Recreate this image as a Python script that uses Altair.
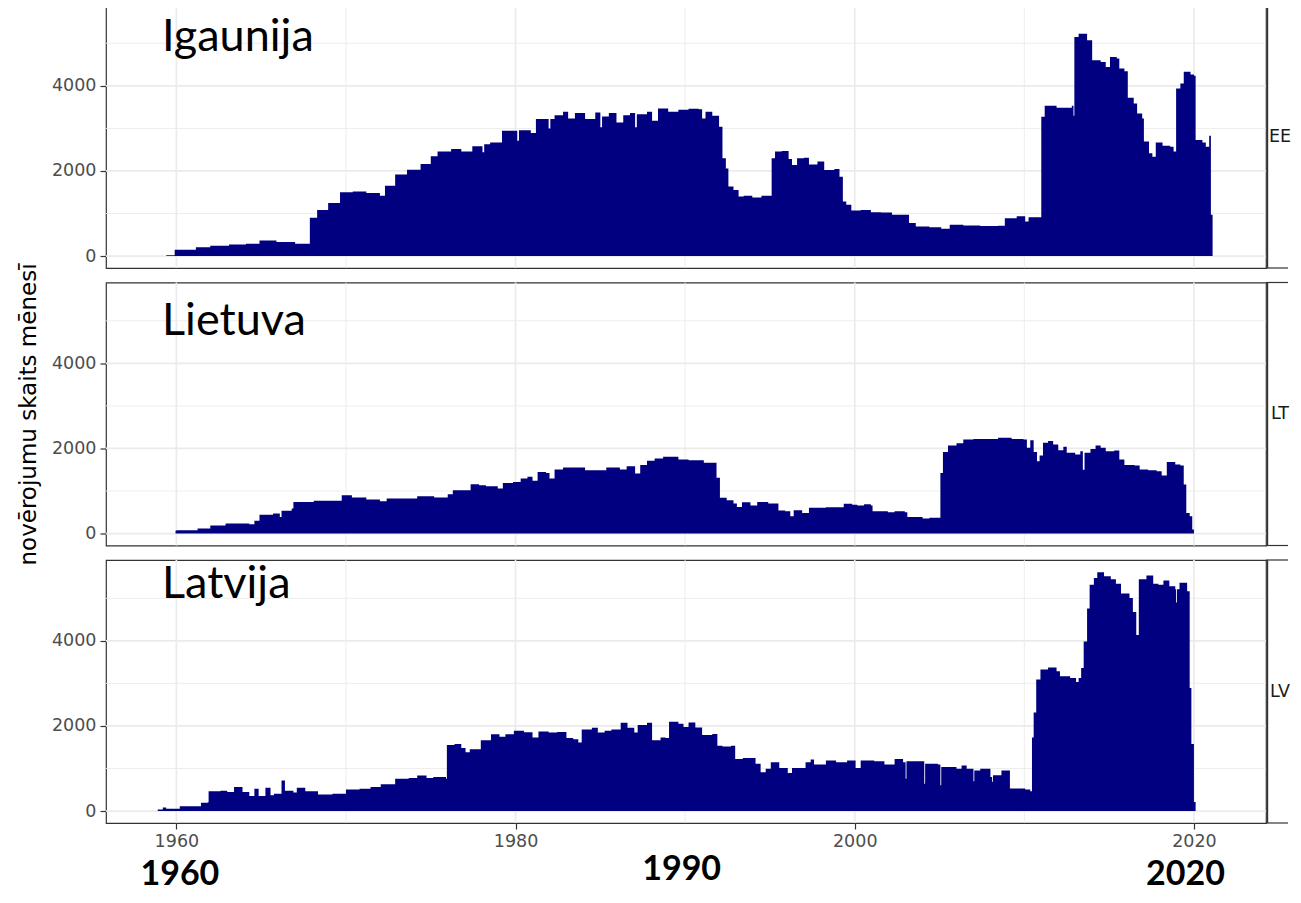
import altair as alt
import pandas as pd

# ---------------- data ----------------
ee_year = [1959.4, 1959.9, 1961.15, 1962.0, 1963.1, 1964.1, 1964.9, 1965.9, 1967.0, 1967.87,
           1968.3, 1968.95, 1969.65, 1970.4, 1971.2, 1972.0, 1972.3, 1972.9, 1973.6, 1974.4,
           1975.0, 1975.4, 1976.2, 1976.8, 1977.45, 1978.05, 1978.15, 1978.5, 1979.2, 1980.1,
           1980.2, 1980.9, 1981.2, 1981.95, 1982.05, 1982.3, 1982.8, 1983.1, 1983.5, 1984.1,
           1984.7, 1985.0, 1985.1, 1985.5, 1985.95, 1986.35, 1986.75, 1987.05, 1987.15, 1987.75,
           1988.05, 1988.4, 1989.0, 1989.6, 1990.2, 1990.8, 1991.0, 1991.2, 1991.6, 1992.0,
           1992.2, 1992.4, 1992.55, 1992.85, 1993.15, 1993.45, 1993.96, 1994.5, 1995.1, 1995.3,
           1995.7, 1996.1, 1996.3, 1996.6, 1997.0, 1997.3, 1997.8, 1998.2, 1998.8, 1999.1,
           1999.3, 1999.5, 1999.8, 2000.35, 2000.95, 2001.55, 2002.2, 2003.2, 2003.6, 2004.4,
           2005.1, 2005.6, 2006.4, 2007.4, 2008.45, 2008.85, 2009.55, 2010.05, 2010.25, 2011.0,
           2011.2, 2011.9, 2012.5, 2012.8, 2012.9, 2012.95, 2013.2, 2013.7, 2014.0, 2014.5,
           2014.8, 2015.05, 2015.45, 2015.6, 2015.9, 2016.1, 2016.45, 2016.65, 2016.95, 2017.05,
           2017.35, 2017.55, 2017.75, 2018.15, 2018.6, 2018.8, 2018.95, 2019.2, 2019.4, 2019.8,
           2020.0, 2020.1, 2020.5, 2020.7, 2020.9, 2021.0, 2021.1]
ee_value = [20, 150, 205, 240, 275, 290, 365, 330, 290, 900,
            1085, 1250, 1500, 1520, 1485, 1420, 1655, 1920, 2030, 2165,
            2345, 2460, 2515, 2455, 2580, 2440, 2630, 2670, 2945, 2710,
            2955, 2890, 3220, 3000, 3220, 3310, 3390, 3235, 3360, 3220,
            3375, 3025, 3280, 3360, 3140, 3310, 3360, 3025, 3335, 3390,
            3180, 3470, 3390, 3440, 3465, 3450, 3235, 3390, 3300, 3040,
            2300, 2060, 1635, 1555, 1400, 1420, 1375, 1420, 2300, 2455,
            2470, 2280, 2140, 2300, 2310, 2155, 2220, 2025, 2045, 1865,
            1280, 1205, 1070, 1085, 1030, 1025, 970, 775, 695, 680,
            640, 735, 720, 705, 710, 890, 935, 810, 915, 3275,
            3530, 3485, 3485, 3530, 3300, 5150, 5225, 5070, 4600, 4560,
            4445, 4680, 4640, 4405, 4345, 3720, 3585, 3350, 3235, 2690,
            2415, 2335, 2670, 2595, 2570, 2455, 3935, 4055, 4330, 4265,
            4235, 2725, 2670, 2570, 2830, 970, 0]

lt_year = [1959.95, 1960.0, 1961.25, 1962.0, 1962.9, 1964.3, 1964.6, 1964.9, 1965.7, 1966.1,
           1966.2, 1966.8, 1966.9, 1968.1, 1969.75, 1970.35, 1971.2, 1972.0, 1972.4, 1974.2,
           1975.2, 1976.0, 1976.3, 1977.35, 1977.85, 1978.25, 1978.95, 1979.25, 1979.85, 1980.3,
           1980.7, 1981.0, 1981.3, 1981.8, 1982.0, 1982.3, 1982.8, 1984.1, 1985.35, 1986.15,
           1986.55, 1987.05, 1987.35, 1987.75, 1988.2, 1988.7, 1989.6, 1990.2, 1991.1, 1991.85,
           1992.05, 1992.45, 1992.85, 1993.05, 1993.35, 1993.85, 1994.25, 1994.9, 1995.5, 1995.9,
           1996.2, 1996.4, 1996.9, 1997.3, 1998.3, 1999.35, 1999.85, 2000.15, 2000.55, 2000.95,
           2001.05, 2001.95, 2002.35, 2002.95, 2003.1, 2004.0, 2004.4, 2005.05, 2005.2, 2005.5,
           2006.0, 2006.4, 2007.0, 2008.45, 2009.25, 2009.95, 2010.15, 2010.35, 2010.55, 2010.75,
           2010.9, 2011.1, 2011.4, 2011.7, 2012.0, 2012.3, 2012.5, 2013.0, 2013.3, 2013.45,
           2013.55, 2013.9, 2014.2, 2014.5, 2014.8, 2015.3, 2015.6, 2015.9, 2016.5, 2016.8,
           2017.3, 2017.8, 2018.1, 2018.4, 2018.9, 2019.2, 2019.4, 2019.55, 2019.75, 2019.9,
           2020.0]
lt_value = [65, 78, 120, 190, 235, 220, 300, 445, 470, 390,
            535, 590, 745, 770, 900, 845, 800, 760, 825, 880,
            845, 925, 1020, 1160, 1135, 1115, 1060, 1190, 1215, 1295,
            1335, 1240, 1450, 1425, 1295, 1505, 1555, 1490, 1555, 1505,
            1585, 1410, 1610, 1710, 1765, 1805, 1740, 1725, 1665, 1310,
            840, 785, 705, 625, 735, 660, 745, 705, 540, 525,
            410, 550, 485, 605, 620, 700, 680, 660, 690, 660,
            525, 500, 525, 500, 390, 355, 375, 1425, 1915, 2070,
            2120, 2210, 2225, 2250, 2225, 2210, 2015, 2195, 1915, 1700,
            1835, 2135, 2175, 2095, 1960, 2040, 1900, 1860, 1935, 1500,
            1900, 1990, 2070, 2015, 1935, 1955, 1740, 1610, 1600, 1505,
            1490, 1465, 1365, 1680, 1625, 1600, 1155, 485, 410, 95,
            0]

lv_year = [1958.9, 1959.2, 1959.4, 1960.2, 1961.45, 1961.85, 1961.9, 1962.6, 1963.0, 1963.4,
           1963.9, 1964.3, 1964.6, 1964.85, 1965.25, 1965.55, 1965.75, 1966.2, 1966.4, 1966.9,
           1967.1, 1967.6, 1968.35, 1969.2, 1970.0, 1970.8, 1971.45, 1972.05, 1972.9, 1973.7,
           1974.2, 1974.75, 1975.15, 1975.9, 1975.95, 1976.4, 1976.8, 1977.05, 1977.3, 1977.95,
           1978.55, 1979.05, 1979.4, 1979.9, 1980.5, 1981.0, 1981.35, 1981.95, 1982.45, 1983.0,
           1983.4, 1983.7, 1983.9, 1984.5, 1984.85, 1985.25, 1985.65, 1986.2, 1986.6, 1987.0,
           1987.2, 1987.75, 1988.05, 1988.55, 1988.85, 1989.05, 1989.6, 1989.9, 1990.2, 1990.6,
           1991.0, 1991.6, 1991.9, 1992.2, 1992.7, 1992.95, 1993.4, 1994.15, 1994.45, 1994.75,
           1995.05, 1995.55, 1996.05, 1996.3, 1997.1, 1997.4, 1997.6, 1998.3, 1998.9, 1999.55,
           2000.05, 2000.35, 2001.15, 2001.75, 2002.35, 2002.85, 2003.0, 2003.05, 2004.1, 2004.15,
           2004.9, 2005.05, 2005.1, 2006.0, 2006.3, 2006.6, 2007.0, 2007.05, 2007.4, 2008.0,
           2008.1, 2008.15, 2008.65, 2009.15, 2010.05, 2010.35, 2010.45, 2010.55, 2010.7, 2010.95,
           2011.4, 2011.9, 2012.1, 2012.7, 2013.05, 2013.2, 2013.35, 2013.5, 2013.7, 2013.85,
           2014.1, 2014.3, 2014.7, 2015.1, 2015.4, 2015.7, 2016.2, 2016.4, 2016.6, 2016.75,
           2017.2, 2017.6, 2017.9, 2018.2, 2018.55, 2018.9, 2018.95, 2019.0, 2019.15, 2019.6,
           2019.75, 2019.85, 2020.0, 2020.1]
lv_value = [40, 85, 55, 115, 195, 210, 465, 475, 450, 565,
            450, 355, 525, 355, 550, 370, 410, 720, 475, 435,
            550, 465, 390, 410, 505, 525, 565, 630, 760, 775,
            835, 775, 800, 760, 1550, 1575, 1480, 1380, 1455, 1665,
            1805, 1745, 1805, 1885, 1855, 1730, 1870, 1845, 1860, 1715,
            1690, 1610, 1920, 1960, 1845, 1885, 1920, 2075, 1960, 1845,
            2025, 2075, 1665, 1730, 1715, 2100, 2055, 1975, 2080, 1965,
            1785, 1810, 1535, 1515, 1535, 1225, 1250, 1110, 915, 995,
            1150, 1010, 895, 1015, 1150, 1210, 1095, 1190, 1150, 1190,
            1010, 1190, 1170, 1095, 1225, 1150, 760, 1170, 645, 1110,
            1095, 605, 1035, 995, 1070, 995, 700, 955, 995, 800,
            690, 840, 955, 530, 505, 465, 1730, 2315, 3090, 3325,
            3375, 3285, 3170, 3130, 3035, 3130, 3360, 3985, 4760, 5320,
            5475, 5615, 5520, 5445, 5340, 5110, 5010, 4680, 4140, 5445,
            5535, 5340, 5320, 5420, 5285, 5210, 4900, 5210, 5365, 5165,
            2895, 1575, 215, 0]

panels = [
    {"code": "EE", "name": "Igaunija", "year": ee_year, "value": ee_value},
    {"code": "LT", "name": "Lietuva", "year": lt_year, "value": lt_value},
    {"code": "LV", "name": "Latvija", "year": lv_year, "value": lv_value},
]
x_major = [1960, 1980, 2000, 2020]
x_minor = [1970, 1990, 2010]
y_major = [0, 2000, 4000]
y_minor = [1000, 3000, 5000]
bottom_labels = ["1960", "1990", "2020"]
bottom_label_years = [1960, 1990, 2020]
y_title = "novērojumu skaits mēnesī"

# ---------------- styling ----------------
W, H = 1160, 263
X_DOMAIN = [1955.85, 2024.25]
Y_DOMAIN = [-280, 5900]
NAVY = "#000080"
GRID = "#EBEBEB"
BORDER = "#333333"
LABEL_FONT = "DejaVu Sans"
name_baselines = [46, 52, 38]
bottom_dx = [3.5, -3.5, -8.5]
bottom_baseline = [324.5, 319.5, 324.5]


def x_enc(show_axis):
    if show_axis:
        axis = alt.Axis(values=x_major, format="d", title=None, grid=False,
                        domain=False, ticks=True, tickSize=6, tickColor=BORDER,
                        tickWidth=1.2, labels=True, labelFont=LABEL_FONT,
                        labelFontSize=17.5, labelColor="#4D4D4D", labelPadding=3)
    else:
        axis = None
    return alt.X("year:Q", scale=alt.Scale(domain=X_DOMAIN, nice=False, zero=False),
                 axis=axis)


def y_enc(show_title):
    kw = dict(values=y_major, format="d", grid=False, domain=False, ticks=True,
              tickSize=6, tickColor=BORDER, tickWidth=1.2, labelFont=LABEL_FONT,
              labelFontSize=17.5, labelColor="#4D4D4D", labelPadding=4)
    if show_title:
        kw.update(title=y_title, titleFont=LABEL_FONT, titleFontSize=23,
                  titleFontWeight="normal", titleColor="#000000", titlePadding=11)
    else:
        kw.update(title=None)
    return alt.Y("value:Q", scale=alt.Scale(domain=Y_DOMAIN, nice=False, zero=False),
                 axis=alt.Axis(**kw))


def make_panel(i, p):
    last = i == len(panels) - 1
    xe = x_enc(last)
    ye = y_enc(i == 1)
    df = pd.DataFrame({"year": p["year"], "value": p["value"]})

    vgrid_minor = alt.Chart(pd.DataFrame({"year": x_minor})).mark_rule(
        color=GRID, strokeWidth=0.9).encode(x=xe)
    hgrid_minor = alt.Chart(pd.DataFrame({"value": y_minor})).mark_rule(
        color=GRID, strokeWidth=0.9).encode(y=ye)
    vgrid = alt.Chart(pd.DataFrame({"year": x_major})).mark_rule(
        color=GRID, strokeWidth=1.7).encode(x=xe)
    hgrid = alt.Chart(pd.DataFrame({"value": y_major})).mark_rule(
        color=GRID, strokeWidth=1.7).encode(y=ye)
    area = alt.Chart(df).mark_area(interpolate="step-after", color=NAVY,
                                   opacity=1).encode(x=xe, y=ye)
    name = alt.Chart(pd.DataFrame({"t": [p["name"]]})).mark_text(
        align="left", baseline="alphabetic", font="Lato", fontSize=45,
        color="#000000").encode(text="t:N", x=alt.value(56),
                                y=alt.value(name_baselines[i]))
    one = pd.DataFrame({"d": [0]})
    strip_top = alt.Chart(one).mark_rule(color=BORDER, strokeWidth=1.2).encode(
        x=alt.value(W), x2=alt.value(W + 22), y=alt.value(0))
    strip_bot = alt.Chart(one).mark_rule(color=BORDER, strokeWidth=1.2).encode(
        x=alt.value(W), x2=alt.value(W + 22), y=alt.value(H))
    strip_left = alt.Chart(one).mark_rule(color=BORDER, strokeWidth=1.2).encode(
        x=alt.value(W + 1.6), y=alt.value(0), y2=alt.value(H))
    strip_txt = alt.Chart(pd.DataFrame({"t": [p["code"]]})).mark_text(
        align="center", baseline="middle", font=LABEL_FONT, fontSize=17.5,
        color="#1A1A1A").encode(text="t:N", x=alt.value(W + 14), y=alt.value(H / 2))

    layers = [vgrid_minor, hgrid_minor, vgrid, hgrid, area, name,
              strip_top, strip_bot, strip_left, strip_txt]
    if last:
        for lab, yr, dx, by in zip(bottom_labels, bottom_label_years, bottom_dx,
                                   bottom_baseline):
            layers.append(
                alt.Chart(pd.DataFrame({"year": [yr], "t": [lab]})).mark_text(
                    align="center", baseline="alphabetic", font="Lato",
                    fontWeight="bold", fontSize=34, color="#000000", dx=dx).encode(
                    x=xe, y=alt.value(by), text="t:N"))
    return alt.layer(*layers).properties(width=W, height=H)


chart = alt.vconcat(*[make_panel(i, p) for i, p in enumerate(panels)],
                    spacing=14.5, bounds="flush")
chart = chart.properties(
    padding={"left": 8, "top": -5, "right": 0, "bottom": 0},
    background="white",
).configure_view(stroke=BORDER, strokeWidth=1.2)

chart.save("out.html", embed_options={"renderer": "svg", "actions": False})
